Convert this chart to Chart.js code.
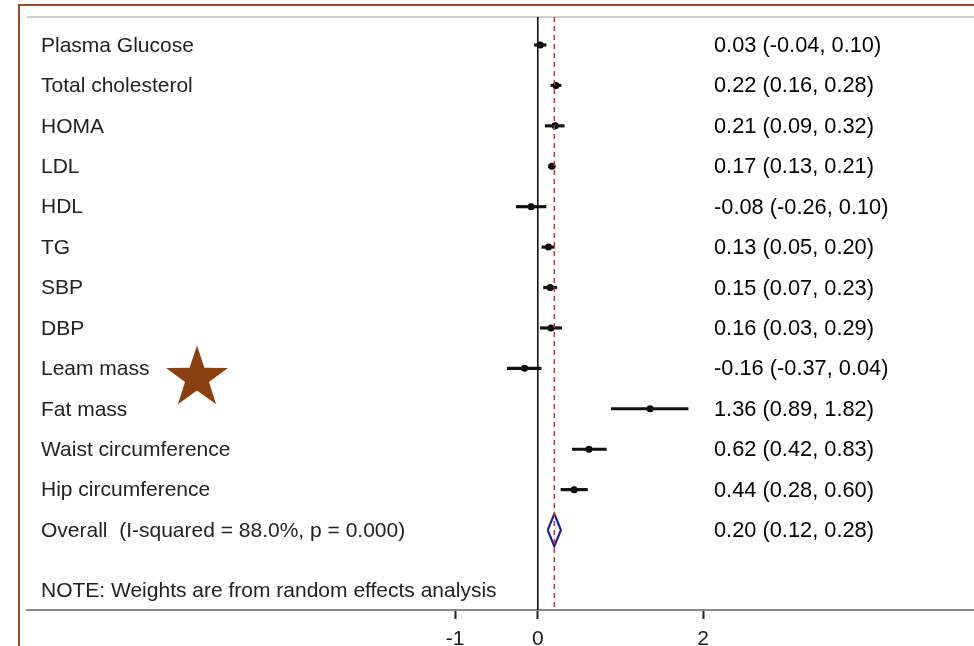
<!DOCTYPE html>
<html>
<head>
<meta charset="utf-8">
<script src="https://cdn.jsdelivr.net/npm/chart.js@4"></script>
<style>
html,body{margin:0;padding:0;background:#fff;overflow:hidden;}
#wrap{position:relative;width:974px;height:646px;}
#frame{position:absolute;left:18px;top:4px;right:0;bottom:0;border-top:2px solid #9a4f24;border-left:2px solid #9a4f24;pointer-events:none;}
canvas{position:absolute;left:0;top:0;}
</style>
</head>
<body>
<div id="wrap">
<canvas id="c" width="974" height="646"></canvas>
<div id="frame"></div>
</div>
<script>
const categories = ["Plasma Glucose","Total cholesterol","HOMA","LDL","HDL","TG","SBP","DBP","Leam mass","Fat mass","Waist circumference","Hip circumference"];
const estimates = [0.03,0.22,0.21,0.17,-0.08,0.13,0.15,0.16,-0.16,1.36,0.62,0.44];
const lower     = [-0.04,0.16,0.09,0.13,-0.26,0.05,0.07,0.03,-0.37,0.89,0.42,0.28];
const upper     = [0.10,0.28,0.32,0.21,0.10,0.20,0.23,0.29,0.04,1.82,0.83,0.60];
const overallLabel = "Overall  (I-squared = 88.0%, p = 0.000)";
const overall = [0.20, 0.12, 0.28];
const noteText = "NOTE: Weights are from random effects analysis";
const xTicks = [-1, 0, 2];

const FONT = '"Liberation Sans", Arial, sans-serif';
const fmt = v => v.toFixed(2);
const rows = categories.map((_, i) => i);
const overallRow = categories.length;
const noteRow = overallRow + 1.5;
const yMin = -0.693, yMax = 13.978;

const ciData = rows.map(i => ({x: [lower[i], upper[i]], y: i}));
const ptData = rows.map(i => ({x: estimates[i], y: i}));
const diamond = [
  {x: overall[1], y: overallRow},
  {x: overall[0], y: overallRow - 0.4},
  {x: overall[2], y: overallRow},
  {x: overall[0], y: overallRow + 0.4},
  {x: overall[1], y: overallRow}
];

const textPlugin = {
  id: 'texts',
  beforeDatasetsDraw(chart) {
    const {ctx, chartArea, width} = chart;
    ctx.save();
    ctx.strokeStyle = '#cfcfcf';
    ctx.lineWidth = 2;
    ctx.beginPath();
    ctx.moveTo(chartArea.left, chartArea.top);
    ctx.lineTo(width, chartArea.top);
    ctx.stroke();
    ctx.strokeStyle = '#8a8a8a';
    ctx.beginPath();
    ctx.moveTo(chartArea.right - 1, chartArea.bottom);
    ctx.lineTo(width, chartArea.bottom);
    ctx.stroke();
    ctx.restore();
  },
  afterDatasetsDraw(chart) {
    const {ctx, chartArea, scales} = chart;
    const ys = scales.y;
    ctx.save();
    ctx.textBaseline = 'middle';
    const lx = chartArea.left + 14;
    const rx = 714;
    const ciStr = (e, l, u) => fmt(e) + ' (' + fmt(l) + ', ' + fmt(u) + ')';
    rows.forEach(i => {
      const y = ys.getPixelForValue(i) + 1;
      ctx.textAlign = 'left';
      ctx.font = '21px ' + FONT;
      ctx.fillStyle = '#222';
      ctx.fillText(categories[i], lx, y);
      ctx.font = '21.8px ' + FONT;
      ctx.fillStyle = '#000';
      ctx.fillText(ciStr(estimates[i], lower[i], upper[i]), rx, y);
    });
    const yo = ys.getPixelForValue(overallRow) + 1;
    ctx.font = '21px ' + FONT;
    ctx.fillStyle = '#222';
    ctx.fillText(overallLabel, lx, yo);
    ctx.fillText(noteText, lx, ys.getPixelForValue(noteRow) + 1);
    ctx.font = '21.8px ' + FONT;
    ctx.fillStyle = '#000';
    ctx.fillText(ciStr(overall[0], overall[1], overall[2]), rx, yo);
    // decorative star
    const cx = 197, cy = 378, R = 32.5, r = 12.6;
    ctx.beginPath();
    for (let k = 0; k < 10; k++) {
      const rad = k % 2 === 0 ? R : r;
      const a = -Math.PI / 2 + k * Math.PI / 5;
      const px = cx + rad * Math.cos(a), py = cy + rad * Math.sin(a);
      if (k === 0) ctx.moveTo(px, py); else ctx.lineTo(px, py);
    }
    ctx.closePath();
    ctx.fillStyle = '#8a3f10';
    ctx.fill();
    ctx.restore();
  }
};

new Chart(document.getElementById('c'), {
  type: 'bar',
  data: {
    datasets: [
      {
        type: 'line', data: [{x: 0, y: yMin}, {x: 0, y: yMax}],
        borderColor: '#111', borderWidth: 1.6, pointRadius: 0, fill: false
      },
      {
        type: 'line', data: [{x: overall[0], y: yMin}, {x: overall[0], y: yMax}],
        borderColor: '#a8383f', borderWidth: 1.4, borderDash: [5, 4], pointRadius: 0, fill: false
      },
      {
        type: 'bar', indexAxis: 'y', data: ciData,
        backgroundColor: '#111', barThickness: 2.5, borderWidth: 0
      },
      {
        type: 'scatter', data: ptData,
        backgroundColor: '#000', borderColor: '#000', pointRadius: 3.5, borderWidth: 0
      },
      {
        type: 'line', data: diamond,
        borderColor: '#1f1f8a', borderWidth: 2.2, pointRadius: 0, fill: false, tension: 0
      }
    ]
  },
  options: {
    responsive: false,
    animation: false,
    devicePixelRatio: 1,
    layout: {padding: {left: 27, top: 17, right: 0, bottom: 0}},
    plugins: {legend: {display: false}, tooltip: {enabled: false}},
    scales: {
      x: {
        type: 'linear', min: -6.183, max: 5.232, offset: false, beginAtZero: false,
        afterBuildTicks(scale) { scale.ticks = xTicks.map(v => ({value: v})); },
        afterFit(scale) { scale.height = 36; },
        grid: {offset: false, drawOnChartArea: false, drawTicks: true, tickLength: 9, tickWidth: 2, tickColor: '#222'},
        border: {display: true, color: '#8a8a8a', width: 2},
        ticks: {padding: 8, color: '#1a1a1a', font: {size: 21, family: FONT}, maxRotation: 0, autoSkip: false,
                callback: v => String(v)}
      },
      y: {
        type: 'linear', reverse: true, min: yMin, max: yMax, display: false, offset: false, beginAtZero: false,
        grid: {offset: false}
      }
    }
  },
  plugins: [textPlugin]
});
</script>
</body>
</html>
